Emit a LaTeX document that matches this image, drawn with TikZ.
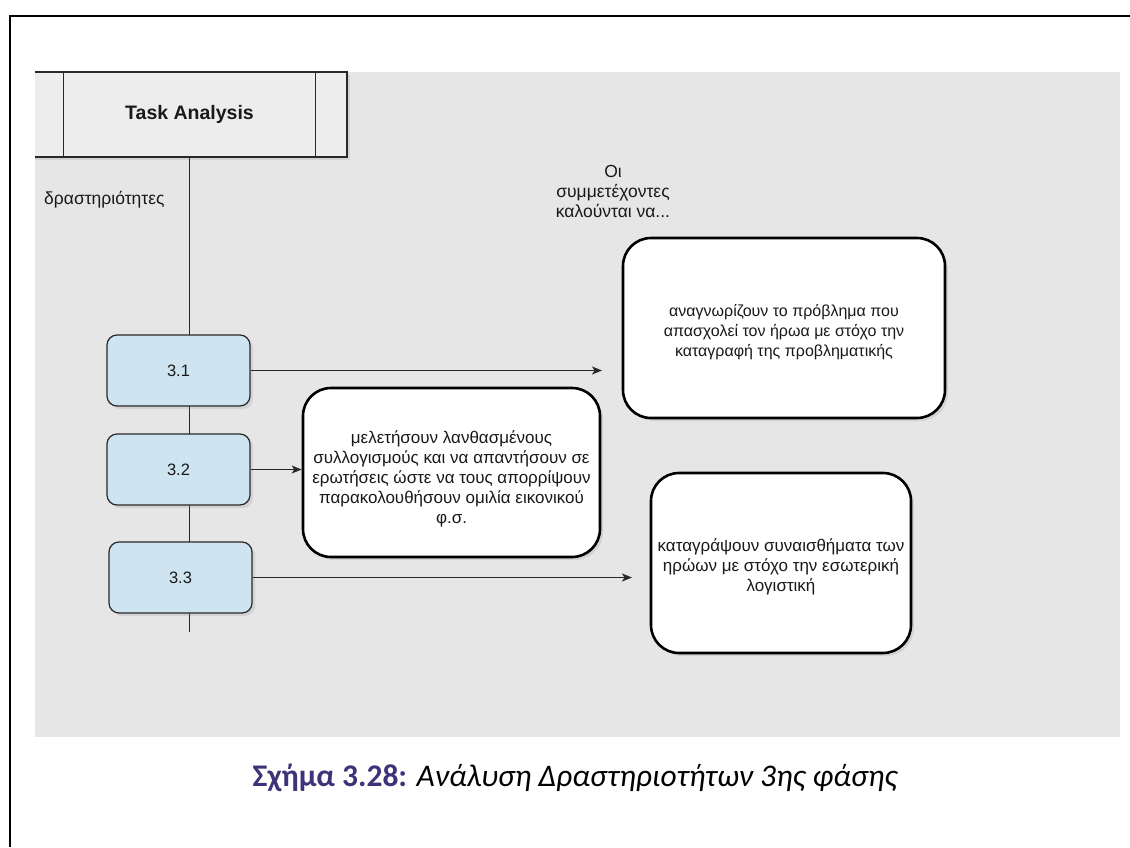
\documentclass[tikz,border=0pt]{standalone}
\usepackage{fontspec}
\setmainfont{Liberation Sans}
\newfontfamily\capfont{Carlito}
\usetikzlibrary{arrows.meta,shadows}
\definecolor{bggray}{RGB}{230,230,230}
\definecolor{taskfill}{RGB}{237,237,237}
\definecolor{bluefill}{RGB}{206,228,241}
\definecolor{linegray}{RGB}{40,40,40}
\definecolor{capviolet}{RGB}{64,50,120}
\tikzset{
  diatext/.style={font=\fontsize{17}{20}\selectfont, text=black!90, align=center, inner sep=0pt},
  smalltext/.style={diatext, font=\fontsize{16}{20}\selectfont},
  wbox/.style={draw=black, line width=2.6pt, fill=white, rounded corners=28pt,
    inner sep=0pt, drop shadow={shadow xshift=3pt, shadow yshift=-3pt, opacity=0.18}},
  bbox/.style={draw=linegray, line width=1.2pt, fill=bluefill, rounded corners=10pt,
    minimum width=143pt, minimum height=71pt, inner sep=0pt, diatext, font=\fontsize{16.5}{20}\selectfont,
    drop shadow={shadow xshift=3pt, shadow yshift=-3pt, opacity=0.18}},
  tbox/.style={draw=linegray, line width=1.2pt, fill=taskfill, minimum width=315pt, minimum height=85pt,
    inner sep=0pt, font=\fontsize{19.5}{22}\selectfont\bfseries, text=black!90,
    drop shadow={shadow xshift=3pt, shadow yshift=-3pt, opacity=0.18}},
  conn/.style={draw=linegray, line width=1.4pt},
  arr/.style={conn, -{Stealth[length=10pt,width=8pt,inset=2.5pt]}},
  frame/.style={draw=black, line width=1.4pt}
}
\begin{document}
\begin{tikzpicture}[x=1pt,y=-1pt]
\useasboundingbox (0,0) rectangle (1130,847);
% page frame
\coordinate (ftl) at (10,16);
\coordinate (ftr) at (1130,16);
\coordinate (fbl) at (10,847);
\draw[frame] (ftr) -- (ftl) -- (fbl);
% gray background
\fill[bggray] (35,72) rectangle (1120,737);
% task analysis box (clipped at the left)
\begin{scope}
\clip (35,60) rectangle (1120,737);
\node[tbox] (task) at (189.5,114.5) {Task Analysis};
\draw[conn] ([xshift=32pt]task.north west) -- ([xshift=32pt]task.south west);
\draw[conn] ([xshift=-32pt]task.north east) -- ([xshift=-32pt]task.south east);
\end{scope}
% labels
\node[diatext, font=\fontsize{17.5}{20}\selectfont, anchor=west] (lbl) at (44,200) {δραστηριότητες};
\node[diatext, font=\fontsize{17.5}{20}\selectfont] (lbl2) at (613,191) {Οι\\συμμετέχοντες\\καλούνται να...};
% vertical line
\coordinate (vend) at (189.5,632);
\draw[conn] (task.south) -- (vend);
% step boxes
\node[bbox] (b31) at (178.5,370.5) {3.1};
\node[bbox] (b32) at (178.5,469.5) {3.2};
\node[bbox] (b33) at (180.5,577.5) {3.3};
% white boxes
\node[wbox, minimum width=322pt, minimum height=180pt] (bA) at (784,328) {};
\node[smalltext] (tA) at ([yshift=-4pt]bA.center)
  {αναγνωρίζουν το πρόβλημα που\\απασχολεί τον ήρωα με στόχο την\\καταγραφή της προβληματικής};
\node[wbox, minimum width=297pt, minimum height=169pt] (bM) at (451.5,472.5) {};
\node[diatext] (tM) at ([yshift=-6pt]bM.center)
  {μελετήσουν λανθασμένους\\συλλογισμούς και να απαντήσουν σε\\ερωτήσεις ώστε να τους απορρίψουν\\παρακολουθήσουν ομιλία εικονικού\\φ.σ.};
\node[wbox, minimum width=260pt, minimum height=180pt] (bC) at (781,563) {};
\node[diatext] (tC) at ([yshift=-4pt]bC.center)
  {καταγράψουν συναισθήματα των\\ηρώων με στόχο την εσωτερική\\λογιστική};
% arrows
\coordinate (a1) at (602,370.5);
\coordinate (a3) at (632,577.5);
\draw[arr] (b31.east) -- (a1);
\draw[arr] (b32.east) -- (b32.east -| bM.west);
\draw[arr] (b33.east) -- (a3);
% caption
\node[font=\capfont\fontsize{31.5}{34}\selectfont] (cap) at (575,778)
  {\textcolor{capviolet}{\bfseries Σχήμα 3.28:} \itshape Ανάλυση Δραστηριοτήτων 3ης φάσης};
\end{tikzpicture}
\end{document}
